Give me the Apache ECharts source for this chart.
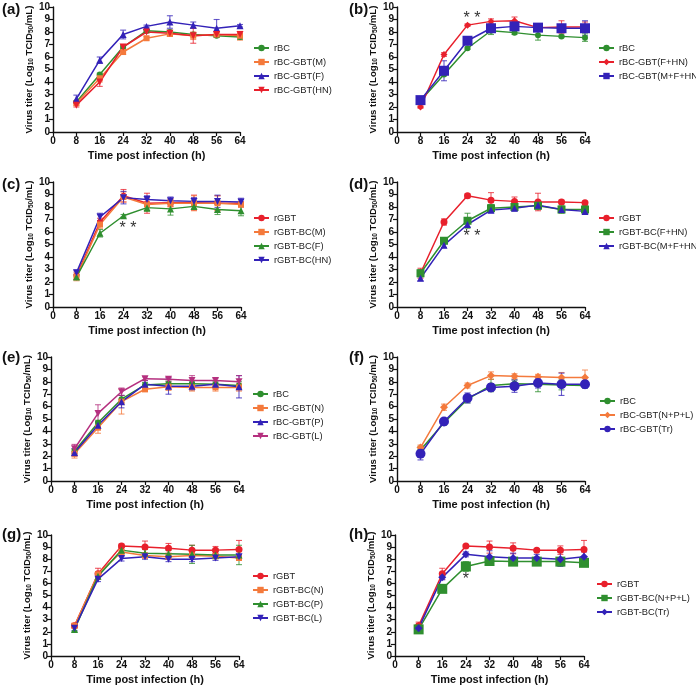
<!DOCTYPE html>
<html><head><meta charset="utf-8">
<script src="https://cdn.jsdelivr.net/npm/echarts@6/dist/echarts.min.js"></script>
<style>html,body{margin:0;padding:0;background:#fff}#c{width:696px;height:686px}</style>
</head><body><div id="c"></div><script>
// ---------- DATA ----------
const hours = [8, 16, 24, 32, 40, 48, 56, 64];
const panelLabels = ['(a)', '(b)', '(c)', '(d)', '(e)', '(f)', '(g)', '(h)'];

const aNames = ['rBC', 'rBC-GBT(M)', 'rBC-GBT(F)', 'rBC-GBT(HN)'];
const aMeans = [
  [2.4, 4.6, 6.8, 8.1, 8.0, 7.8, 7.7, 7.6],
  [2.3, 4.3, 6.4, 7.5, 7.85, 7.7, 7.8, 7.7],
  [2.65, 5.75, 7.8, 8.45, 8.8, 8.55, 8.3, 8.5],
  [2.15, 4.0, 6.8, 8.0, 7.9, 7.7, 7.8, 7.8]];
const aSD = [
  [0.1, 0.1, 0.1, 0.1, 0.15, 0.1, 0.1, 0.2],
  [0.15, 0.3, 0.2, 0.15, 0.2, 0.3, 0.2, 0.35],
  [0.3, 0.25, 0.35, 0.1, 0.5, 0.25, 0.7, 0.1],
  [0.15, 0.35, 0.2, 0.1, 0.2, 0.6, 0.2, 0.2]];

const bNames = ['rBC', 'rBC-GBT(F+HN)', 'rBC-GBT(M+F+HN)'];
const bMeans = [
  [2.5, 4.6, 6.7, 8.1, 7.95, 7.75, 7.65, 7.55],
  [2.0, 6.2, 8.55, 8.85, 8.9, 8.35, 8.4, 8.4],
  [2.55, 4.9, 7.3, 8.3, 8.45, 8.35, 8.3, 8.3]];
const bSD = [
  [0.1, 0.1, 0.1, 0.3, 0.15, 0.4, 0.1, 0.3],
  [0.1, 0.15, 0.1, 0.2, 0.3, 0.1, 0.5, 0.4],
  [0.2, 0.8, 0.2, 0.2, 0.15, 0.2, 0.3, 0.6]];

const cNames = ['rGBT', 'rGBT-BC(M)', 'rGBT-BC(F)', 'rGBT-BC(HN)'];
const cMeans = [
  [2.5, 6.8, 8.9, 8.3, 8.35, 8.35, 8.3, 8.3],
  [2.4, 6.6, 8.8, 8.2, 8.3, 8.3, 8.3, 8.2],
  [2.4, 5.9, 7.3, 7.95, 7.85, 8.05, 7.8, 7.7],
  [2.75, 7.2, 8.75, 8.6, 8.5, 8.45, 8.45, 8.4]];
const cSD = [
  [0.3, 0.3, 0.5, 0.8, 0.3, 0.6, 0.6, 0.3],
  [0.3, 0.3, 0.4, 0.5, 0.3, 0.6, 0.6, 0.2],
  [0.2, 0.3, 0.1, 0.3, 0.5, 0.2, 0.4, 0.4],
  [0.2, 0.3, 0.5, 0.3, 0.3, 0.3, 0.5, 0.3]];

const dNames = ['rGBT', 'rGBT-BC(F+HN)', 'rGBT-BC(M+F+HN)'];
const dMeans = [
  [2.7, 6.8, 8.9, 8.55, 8.45, 8.4, 8.4, 8.35],
  [2.7, 5.3, 6.9, 7.9, 8.0, 8.1, 7.8, 7.8],
  [2.3, 4.95, 6.6, 7.75, 7.9, 8.15, 7.8, 7.65]];
const dSD = [
  [0.4, 0.25, 0.15, 0.6, 0.35, 0.7, 0.15, 0.1],
  [0.3, 0.2, 0.6, 0.3, 0.3, 0.3, 0.3, 0.3],
  [0.2, 0.2, 0.2, 0.2, 0.2, 0.2, 0.2, 0.2]];

const eNames = ['rBC', 'rBC-GBT(N)', 'rBC-GBT(P)', 'rBC-GBT(L)'];
const eMeans = [
  [2.4, 4.7, 6.6, 7.75, 7.85, 7.85, 7.8, 7.7],
  [2.2, 4.3, 6.4, 7.4, 7.6, 7.55, 7.55, 7.55],
  [2.3, 4.5, 6.4, 7.8, 7.65, 7.65, 7.8, 7.6],
  [2.6, 5.45, 7.2, 8.25, 8.2, 8.1, 8.1, 8.0]];
const eSD = [
  [0.2, 0.2, 0.3, 0.2, 0.2, 0.2, 0.2, 0.3],
  [0.35, 0.45, 1.0, 0.2, 0.3, 0.3, 0.3, 0.3],
  [0.3, 0.3, 0.5, 0.3, 0.65, 0.3, 0.3, 0.9],
  [0.35, 0.7, 0.3, 0.15, 0.15, 0.4, 0.2, 0.5]];

const fNames = ['rBC', 'rBC-GBT(N+P+L)', 'rBC-GBT(Tr)'];
const fMeans = [
  [2.5, 4.7, 6.6, 7.7, 7.85, 7.8, 7.75, 7.7],
  [2.7, 5.95, 7.7, 8.5, 8.45, 8.4, 8.35, 8.35],
  [2.2, 4.8, 6.7, 7.55, 7.65, 7.9, 7.8, 7.8]];
const fSD = [
  [0.3, 0.2, 0.3, 0.5, 0.3, 0.6, 0.4, 0.2],
  [0.2, 0.25, 0.2, 0.3, 0.2, 0.2, 0.4, 0.6],
  [0.5, 0.2, 0.4, 0.3, 0.5, 0.4, 0.9, 0.3]];

const gNames = ['rGBT', 'rGBT-BC(N)', 'rGBT-BC(P)', 'rGBT-BC(L)'];
const gMeans = [
  [2.5, 6.8, 9.1, 9.0, 8.9, 8.75, 8.75, 8.8],
  [2.5, 6.75, 8.6, 8.3, 8.2, 8.3, 8.25, 8.1],
  [2.2, 6.6, 8.75, 8.5, 8.45, 8.4, 8.35, 8.35],
  [2.3, 6.35, 8.05, 8.2, 8.0, 8.0, 8.1, 8.2]];
const gSD = [
  [0.15, 0.45, 0.15, 0.5, 0.4, 0.4, 0.3, 0.75],
  [0.2, 0.2, 0.2, 0.2, 0.2, 0.2, 0.2, 0.2],
  [0.2, 0.2, 0.2, 0.3, 0.3, 0.75, 0.3, 0.8],
  [0.2, 0.2, 0.2, 0.2, 0.2, 0.2, 0.2, 0.2]];

const hNames = ['rGBT', 'rGBT-BC(N+P+L)', 'rGBT-BC(Tr)'];
const hMeans = [
  [2.5, 6.8, 9.1, 9.0, 8.9, 8.75, 8.75, 8.8],
  [2.2, 5.55, 7.4, 7.85, 7.8, 7.8, 7.8, 7.7],
  [2.3, 6.5, 8.4, 8.2, 8.1, 8.1, 8.0, 8.2]];
const hSD = [
  [0.3, 0.45, 0.1, 0.5, 0.45, 0.1, 0.35, 0.75],
  [0.1, 0.1, 0.4, 0.2, 0.2, 0.2, 0.2, 0.2],
  [0.2, 0.2, 0.2, 0.5, 0.4, 0.3, 0.6, 0.4]];

// significance annotations: [panelIndex, x, y, text]
const sigMarks = [[1, 25.5, 9.05, '* *'], [2, 25.5, 6.25, '* *'], [3, 25.5, 5.65, '* *'], [7, 24, 6.35, '*']];

// ---------- STYLES ----------
const GREEN = '#2f8f2f', ORANGE = '#f47a3c', BLUE = '#3322b8', RED = '#e8202c', MAG = '#b5307f';
// per series: [color, symbol, size, rotate]
const styles = [
  [[GREEN,'circle',6,0],[ORANGE,'rect',6,0],[BLUE,'triangle',7,0],[RED,'triangle',7,180]],
  [[GREEN,'circle',6,0],[RED,'diamond',7,0],[BLUE,'rect',10,0]],
  [[RED,'circle',6,0],[ORANGE,'rect',6,0],[GREEN,'triangle',7,0],[BLUE,'triangle',7,180]],
  [[RED,'circle',7,0],[GREEN,'rect',8,0],[BLUE,'triangle',7,0]],
  [[GREEN,'circle',6,0],[ORANGE,'rect',6,0],[BLUE,'triangle',7,0],[MAG,'triangle',7,180]],
  [[GREEN,'circle',6,0],[ORANGE,'diamond',8,0],[BLUE,'circle',10,0]],
  [[RED,'circle',7,0],[ORANGE,'rect',6,0],[GREEN,'triangle',7,0],[BLUE,'triangle',7,180]],
  [[RED,'circle',7,0],[GREEN,'rect',10,0],[BLUE,'diamond',8,0]]
];
const panels = [
  [aNames,aMeans,aSD],[bNames,bMeans,bSD],[cNames,cMeans,cSD],[dNames,dMeans,dSD],
  [eNames,eMeans,eSD],[fNames,fMeans,fSD],[gNames,gMeans,gSD],[hNames,hMeans,hSD]];

const grids = [
  {left:53, top:7, width:187, height:125},
  {left:397, top:7, width:188, height:125},
  {left:53, top:182, width:188, height:125},
  {left:397, top:182, width:188, height:125},
  {left:51, top:357, width:188, height:124},
  {left:397, top:357, width:188, height:124},
  {left:51, top:535, width:188, height:125},
  {left:395, top:535, width:189, height:125}];
const legendPos = [
  {left:253, top:42}, {left:598, top:42}, {left:253, top:212}, {left:598, top:212},
  {left:252, top:388}, {left:599, top:395}, {left:252, top:570}, {left:596, top:578}];
const labelPos = [[2,2],[349,2],[2,177],[349,177],[2,350],[349,350],[2,527],[349,527]];

const FONT = 'Liberation Sans, Arial, sans-serif';
const axisLine = {show:true, lineStyle:{color:'#111', width:1.4}};
const axisTick = {show:true, length:4, lineStyle:{color:'#111', width:1.2}};

const xAxes = [], yAxes = [], series = [], legends = [], graphics = [];
panels.forEach((p, pi) => {
  const [names, means, sds] = p;
  xAxes.push({gridIndex:pi, type:'value', min:0, max:64, interval:8,
    axisLine, axisTick, splitLine:{show:false},
    axisLabel:{color:'#111', fontFamily:FONT, fontWeight:'bold', fontSize:10, margin:4},
    name:'Time post infection (h)', nameLocation:'middle', nameGap:18,
    nameTextStyle:{color:'#111', fontFamily:FONT, fontWeight:'bold', fontSize:11}});
  yAxes.push({gridIndex:pi, type:'value', min:0, max:10, interval:1,
    axisLine, axisTick, splitLine:{show:false},
    axisLabel:{color:'#111', fontFamily:FONT, fontWeight:'bold', fontSize:10, margin:3},
    name:'Virus titer (Log{s|10} TCID{s|50}/mL)', nameLocation:'middle', nameGap:17,
    nameTextStyle:{color:'#111', fontFamily:FONT, fontWeight:'bold', fontSize:9.6,
      rich:{s:{fontFamily:FONT, fontWeight:'bold', fontSize:6.5, verticalAlign:'bottom', padding:[4,0,0,0], color:'#111'}}}});
  names.forEach((nm, si) => {
    const [color, symbol, size, rot] = styles[pi][si];
    series.push({
      type:'custom', xAxisIndex:pi, yAxisIndex:pi, z:1, silent:true,
      data: hours.map((h,k)=>[h, means[si][k], sds[si][k]]),
      renderItem(params, api){
        const x = api.value(0), y = api.value(1), s = api.value(2);
        const t = api.coord([x, y + s]), b = api.coord([x, y - s]);
        const w = 3, st = {stroke: color, lineWidth: 1.1, opacity: 0.75};
        return {type:'group', children:[
          {type:'line', shape:{x1:t[0], y1:t[1], x2:b[0], y2:b[1]}, style:st},
          {type:'line', shape:{x1:t[0]-w, y1:t[1], x2:t[0]+w, y2:t[1]}, style:st},
          {type:'line', shape:{x1:b[0]-w, y1:b[1], x2:b[0]+w, y2:b[1]}, style:st}]};
      }
    });
    const s = {
      type:'line', name:nm, xAxisIndex:pi, yAxisIndex:pi, z:3,
      data: hours.map((h,k)=>[h, means[si][k]]),
      symbol, symbolSize:size, symbolRotate:rot, showAllSymbol:true,
      itemStyle:{color}, lineStyle:{color, width:1.5}, emphasis:{disabled:true}
    };
    const marks = sigMarks.filter(m => m[0] === pi);
    if (si === 0 && marks.length) {
      s.markPoint = {symbol:'circle', symbolSize:1, itemStyle:{color:'rgba(0,0,0,0)'},
        data: marks.map(m => ({coord:[m[1], m[2]], value:m[3],
          label:{show:true, position:'inside', formatter:m[3], color:'#333', fontSize:16, fontFamily:FONT}}))};
    }
    series.push(s);
  });
  legends.push(Object.assign({orient:'vertical', data:names, itemWidth:15, itemHeight:8, itemGap:2, padding:0,
    textStyle:{fontFamily:FONT, fontSize:9.3, color:'#222', lineHeight:12}, selectedMode:false}, legendPos[pi]));
  graphics.push({type:'text', left:labelPos[pi][0], top:labelPos[pi][1],
    style:{text:panelLabels[pi], font:'bold 15px ' + FONT, fill:'#111'}});
});

const chart = echarts.init(document.getElementById('c'), null, {renderer:'canvas'});
chart.setOption({
  animation:false, backgroundColor:'#fff',
  grid:grids, xAxis:xAxes, yAxis:yAxes, legend:legends, series, graphic:graphics
});
</script></body></html>
